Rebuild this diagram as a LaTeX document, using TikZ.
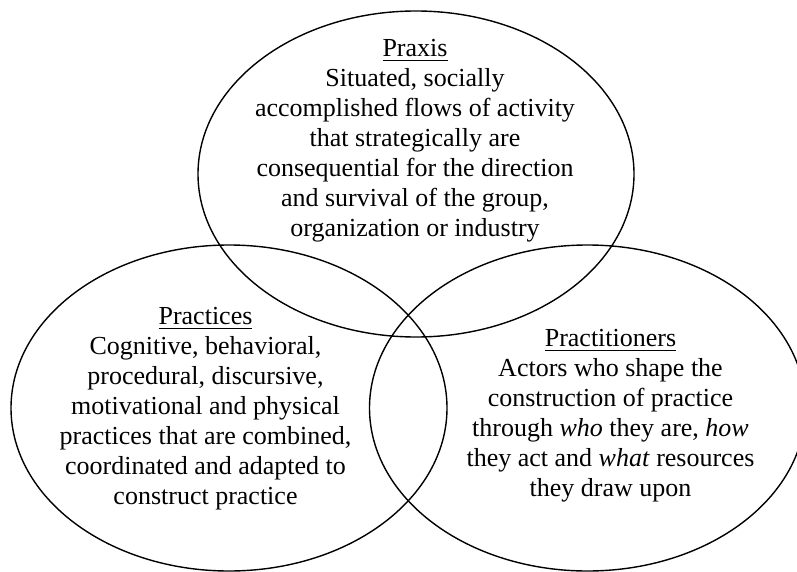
\documentclass[tikz,border=0pt]{standalone}
\usepackage{fontspec}
\setmainfont{Liberation Serif}
% underlined heading with a rule drawn just below the baseline
\newcommand\headline[1]{\setbox0\hbox{#1}\rlap{\rule[-4.6pt]{\wd0}{1.3pt}}\box0}
\begin{document}
\begin{tikzpicture}[x=1pt,y=-1pt,
  venn/.style={line width=1.4pt},
  blurb/.style={anchor=north, inner sep=0pt, align=center,
    font=\fontsize{26}{30}\selectfont}]
\useasboundingbox (0,0) rectangle (797,572);
\clip (0,0) rectangle (797,572);

% the three overlapping sets
\draw[venn] (416,174) ellipse [x radius=218, y radius=163];
\draw[venn] (229,408) ellipse [x radius=218, y radius=163];
\draw[venn] (587.5,408) ellipse [x radius=218, y radius=163];

\node[blurb] (praxis) at (415,36) {\rule{0pt}{20pt}\headline{Praxis}\\
  Situated, socially\\
  accomplished flows of activity\\
  that strategically are\\
  consequential for the direction\\
  and survival of the group,\\
  organization or industry};

\node[blurb] (practices) at (205.5,304) {\rule{0pt}{20pt}\headline{Practices}\\
  Cognitive, behavioral,\\
  procedural, discursive,\\
  motivational and physical\\
  practices that are combined,\\
  coordinated and adapted to\\
  construct practice};

\node[blurb] (practitioners) at (610.5,326.5) {\rule{0pt}{20pt}\headline{Practitioners}\\
  Actors who shape the\\
  construction of practice\\
  through \textit{who} they are, \textit{how}\\
  they act and \textit{what} resources\\
  they draw upon};
\end{tikzpicture}
\end{document}
